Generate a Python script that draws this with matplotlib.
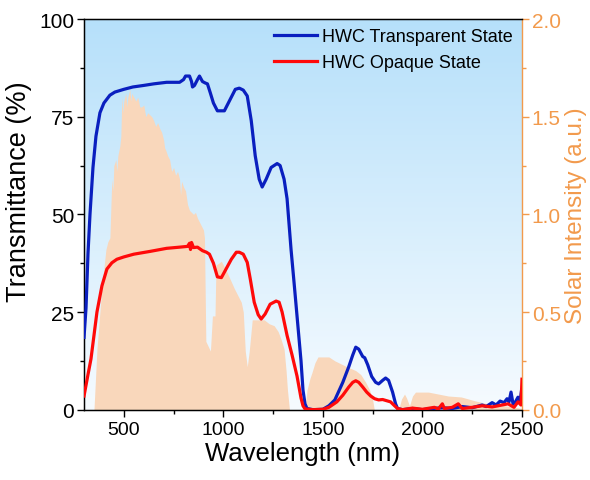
import numpy as np
import matplotlib
matplotlib.use("Agg")
import matplotlib.pyplot as plt
from matplotlib.ticker import MultipleLocator
from matplotlib.colors import LinearSegmentedColormap

plt.rcParams['font.family'] = ['Liberation Sans', 'DejaVu Sans']

# ---------------- data ----------------
wl_trans = [300, 310, 320, 330, 345, 360, 380, 400, 415, 430, 455, 500, 545, 600, 650, 715, 780,
            800, 810, 830, 840, 845, 855, 870, 880, 895, 910, 920, 935, 950, 970, 1005, 1030,
            1060, 1080, 1100, 1120, 1140, 1160, 1180, 1195, 1215, 1240, 1270, 1285, 1305, 1320,
            1340, 1355, 1370, 1390, 1400, 1410, 1420, 1450, 1500, 1530, 1560, 1600, 1630, 1650,
            1665, 1680, 1700, 1710, 1725, 1745, 1765, 1780, 1800, 1815, 1830, 1850, 1865, 1875,
            1900, 1950, 2000, 2050, 2100, 2150, 2200, 2250, 2300, 2320, 2350, 2370, 2390, 2410,
            2425, 2435, 2445, 2455, 2465, 2480, 2490, 2498, 2500]
t_transparent = [18.5, 26, 40, 50, 62, 70, 76, 78.5, 79.5, 80.5, 81.3, 82, 82.6, 83, 83.4, 83.8, 83.8,
                 84.5, 85.4, 85.4, 84, 82.6, 83, 84.5, 85.4, 84, 83.6, 83.4, 81, 78.5, 76.5, 76.5, 79,
                 82, 82.3, 81.8, 80.3, 74, 65, 59, 57, 59, 62, 63, 62.5, 59, 54,
                 41, 32.6, 24, 12.5, 5, 1.5, 0.3, 0, 0.1, 1, 2.5, 7, 11, 14,
                 16, 15.5, 13.6, 13.3, 11.5, 8.5, 7, 6.6, 7.5, 8.1, 7.5, 4.5, 1.5, 0.3,
                 0, 0.3, 0, 0.3, 0.5, 0.3, 0.8, 0.5, 1.2, 0.8, 1.8, 1.2, 2.2, 1.8,
                 2.8, 2.0, 4.5, 1.5, 1.8, 3.2, 2.0, 5.0, 3.0]

wl_opaque = [300, 320, 335, 350, 365, 390, 415, 440, 465, 500, 550, 630, 715, 780, 820, 830, 835,
             840, 850, 870, 895, 915, 930, 950, 970, 990, 1005, 1040, 1065, 1080, 1100, 1120, 1135,
             1155, 1175, 1190, 1210, 1235, 1265, 1280, 1295, 1320, 1345, 1370, 1390, 1400,
             1410, 1450, 1500, 1530, 1570, 1600, 1630, 1650, 1665, 1680, 1700, 1720, 1740,
             1760, 1780, 1800, 1820, 1840, 1860, 1875, 1900, 1950, 2000, 2060, 2080, 2100, 2110,
             2150, 2180, 2200, 2250, 2300, 2350, 2400, 2430, 2460, 2480, 2495, 2500]
t_opaque = [3.5, 9, 13, 19, 25, 31.7, 36, 37.6, 38.5, 39.1, 39.8, 40.5, 41.3, 41.6, 41.8, 42.6, 41,
            42.8, 41.5, 41.6, 40.7, 40.3, 39.8, 37.5, 34, 33.8, 35.2, 38.5, 40.3, 40.3, 39.8, 37.7, 33.5,
            27.5, 24.3, 23.2, 24.5, 27, 27.8, 27.5, 25, 19, 14, 8.6, 3, 1,
            0.2, 0, 0.1, 0.6, 2, 3.7, 5.8, 7, 7.4, 7, 5.8, 4.5, 3.5,
            2.8, 2.5, 2.6, 2.3, 2.0, 1, 0.3, 0, 0.4, 0.1, 0.6, 0.2, 1.5, 0.3,
            0.6, 1.5, 0.3, 0.6, 1.0, 0.7, 1.2, 1.5, 0.6, 2, 1.2, 7.8]

wl_solar = [300, 340, 350, 365, 390, 410, 420, 430, 437, 440, 445, 450, 460, 465, 470, 480, 485,
            490, 495, 500, 510, 515, 520, 530, 535, 540, 550, 560, 570, 580, 590, 600, 610, 620,
            640, 650, 660, 670, 680, 690, 700, 705, 710, 720, 730, 740, 750, 760, 770, 780, 785,
            790, 800, 810, 820, 830, 850, 860, 870, 880, 890, 900, 905, 912, 935, 945, 958, 963,
            990, 1020, 1055, 1090, 1100, 1110, 1120, 1130, 1145, 1170, 1205, 1230, 1255, 1275,
            1290, 1305, 1315, 1322, 1332, 1410, 1420, 1435, 1445, 1460, 1475, 1500, 1530, 1560,
            1580, 1620, 1665, 1690, 1715, 1735, 1750, 1758, 1880, 1895, 1910, 1920, 1935, 1950,
            1965, 2000, 2030, 2080, 2130, 2195, 2265, 2330, 2415, 2480, 2500]
solar = [0, 0, 0.0, 0.31, 0.63, 0.82, 0.86, 0.88, 1.1, 1.18, 1.12, 1.25, 1.28, 1.22, 1.3, 1.35, 1.40,
         1.6, 1.52, 1.58, 1.62, 1.55, 1.6, 1.64, 1.58, 1.62, 1.6, 1.58, 1.6, 1.55, 1.55, 1.56, 1.5, 1.52,
         1.5, 1.48, 1.45, 1.47, 1.44, 1.42, 1.38, 1.34, 1.33, 1.30, 1.28, 1.22, 1.24, 1.20, 1.22, 1.18, 1.10,
         1.17, 1.14, 1.12, 1.05, 1.02, 1.0, 1.01, 0.98, 0.96, 0.94, 0.92, 0.88, 0.35, 0.3, 0.48, 0.48, 0.74,
         0.76, 0.70, 0.62, 0.55, 0.50, 0.30, 0.22, 0.30, 0.46, 0.46, 0.46, 0.44, 0.43, 0.40,
         0.36, 0.31, 0.2, 0.1, 0.0, 0.0, 0.1, 0.16, 0.19, 0.24, 0.27, 0.27, 0.27, 0.25,
         0.24, 0.22, 0.20, 0.18, 0.14, 0.1, 0.05, 0.0, 0.0, 0.055, 0.08, 0.06, 0.02, 0.07,
         0.09, 0.09, 0.09, 0.08, 0.07, 0.065, 0.045, 0.03, 0.02, 0.01, 0.005]

x_ticks = [500, 1000, 1500, 2000, 2500]
y_ticks = [0, 25, 50, 75, 100]
y2_ticks = [0.0, 0.5, 1.0, 1.5, 2.0]

# ---------------- style ----------------
BLUE = '#0a1fbf'
RED = '#ff0a0a'
PEACH = '#f9d7bb'
ORANGE = '#f29a4c'

fig = plt.figure(figsize=(5.9, 4.81), dpi=100)
ax = fig.add_axes([0.1424, 0.1462, 0.7423, 0.8122])
ax2 = ax.twinx()
ax.set_zorder(ax2.get_zorder() + 1)
ax.patch.set_visible(False)

# background gradient on the lower (twin) axes
cmap = LinearSegmentedColormap.from_list('bg', ['#f6fbff', '#b6e0fa'])
grad = np.linspace(0, 1, 256).reshape(-1, 1)
ax2.imshow(grad, aspect='auto', cmap=cmap, origin='lower',
           extent=[0, 1, 0, 1], transform=ax2.transAxes, zorder=0)

ax2.fill_between(wl_solar, 0, solar, color=PEACH, lw=0, zorder=1)

ax.plot(wl_trans, t_transparent, color=BLUE, lw=2.3, label='HWC Transparent State', zorder=3)
ax.plot(wl_opaque, t_opaque, color=RED, lw=2.3, label='HWC Opaque State', zorder=4)

ax.set_xlim(300, 2500)
ax.set_ylim(0, 100)
ax2.set_ylim(0, 2.0)
ax2.set_xlim(300, 2500)

ax.set_xticks(x_ticks)
ax.set_yticks(y_ticks)
ax2.set_yticks(y2_ticks)
ax2.set_yticklabels([f'{v:.1f}' for v in y2_ticks])
ax.xaxis.set_minor_locator(MultipleLocator(250))
ax.yaxis.set_minor_locator(MultipleLocator(12.5))
ax2.yaxis.set_minor_locator(MultipleLocator(0.25))

ax.tick_params(axis='x', which='major', direction='out', length=5, width=1, labelsize=14, pad=3)
ax.tick_params(axis='x', which='minor', direction='out', length=3, width=1)
ax.tick_params(axis='y', which='major', direction='out', length=5, width=1, labelsize=15, pad=2)
ax.tick_params(axis='y', which='minor', direction='out', length=3, width=1)
ax2.tick_params(axis='y', which='major', direction='out', length=5, width=1, labelsize=15,
                colors=ORANGE, pad=2)
ax2.tick_params(axis='y', which='minor', direction='out', length=3, width=1, colors=ORANGE)

for s in ['left', 'bottom', 'top']:
    ax.spines[s].set_linewidth(1.0)
ax.spines['right'].set_visible(False)
ax2.spines['right'].set_color(ORANGE)
ax2.spines['right'].set_linewidth(1.0)

ax.set_xlabel('Wavelength (nm)', fontsize=18.5, labelpad=2)
ax.set_ylabel('Transmittance (%)', fontsize=19.5)
ax.yaxis.set_label_coords(-0.118, 0.56)
ax2.set_ylabel('Solar Intensity (a.u.)', fontsize=17.5, color=ORANGE, labelpad=3)

leg = ax.legend(loc='upper right', bbox_to_anchor=(1.0, 1.0), frameon=False, fontsize=13,
                handlelength=2.4, handletextpad=0.28, labelspacing=0.5, borderaxespad=0.1)

fig.savefig('out.png', dpi=100)
